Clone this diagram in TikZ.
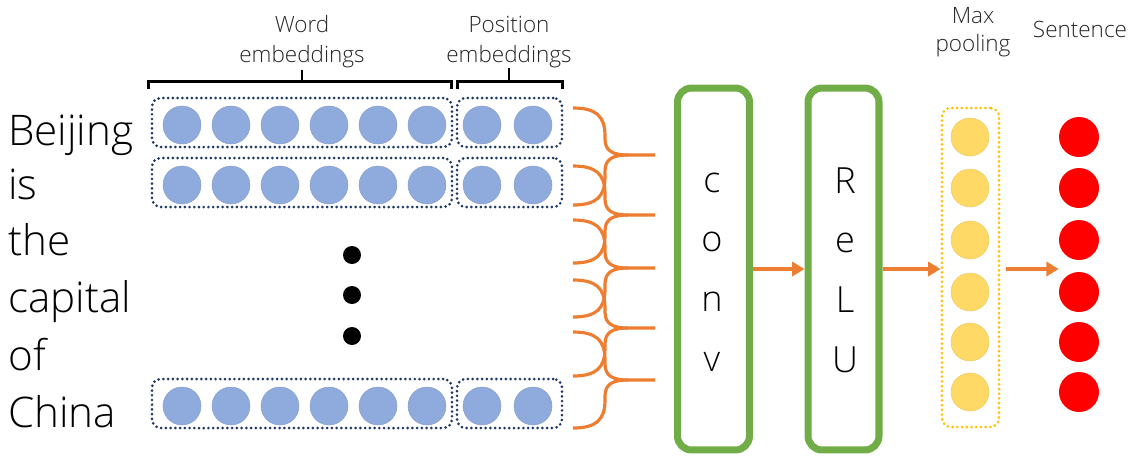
\documentclass[tikz,border=0pt]{standalone}
\usepackage{fontspec}
\IfFontExistsTF{Open Sans Light}{\setmainfont{Open Sans Light}}{\setmainfont{Open Sans}}
\usetikzlibrary{arrows.meta,fit,calc}
\definecolor{embblue}{HTML}{8FAADC}
\definecolor{dotblue}{HTML}{203864}
\definecolor{convgreen}{HTML}{70AD47}
\definecolor{flow}{HTML}{ED7D31}
\definecolor{poolfill}{HTML}{FFD966}
\definecolor{pooldot}{HTML}{FFC000}
\definecolor{outred}{HTML}{FF0000}
\begin{document}
\begin{tikzpicture}[x=0.02cm,y=-0.02cm,
  emb/.style={circle,fill=embblue,draw=embblue!80!gray,line width=0.3pt,minimum size=0.76cm,inner sep=0pt},
  pooled/.style={circle,fill=poolfill,draw=poolfill!85!gray,line width=0.3pt,minimum size=0.76cm,inner sep=0pt},
  sent/.style={circle,fill=outred,minimum size=0.8cm,inner sep=0pt},
  vdot/.style={circle,fill=black,minimum size=0.36cm,inner sep=0pt},
  dotbox/.style={draw=dotblue,line width=1.7pt,dash pattern=on 0pt off 2.7pt,line cap=round,rounded corners=5pt,inner sep=0pt},
  poolbox/.style={draw=pooldot,line width=1.7pt,dash pattern=on 0pt off 2.7pt,line cap=round,rounded corners=5pt,inner sep=0pt},
  layer/.style={draw=convgreen,line width=4pt,rounded corners=8pt,minimum width=1.44cm,minimum height=7.24cm,inner sep=0pt},
  layerchar/.style={anchor=base,font=\fontsize{20.5}{24}\selectfont,inner sep=0pt},
  word/.style={anchor=base west,font=\fontsize{24}{29}\selectfont,inner sep=0pt},
  caption/.style={anchor=base,font=\fontsize{12.8}{15}\selectfont,text=black!85,inner sep=0pt},
  bracket/.style={draw=black,line width=1.3pt},
  window/.style={draw=flow,line width=1.8pt},
  flowarrow/.style={draw=flow,line width=1.8pt,-{Triangle[length=7pt,width=8pt]}}]
\useasboundingbox (0,0) rectangle (1133,458);

% input words
\node[word] (w1) at (8,145) {Beijing};
\node[word] (w2) at (8,199) {is};
\node[word] (w3) at (8,255) {the};
\node[word] (w4) at (8,312) {capital};
\node[word] (w5) at (8,370) {of};
\node[word] (w6) at (8,427) {China};

% embedding rows: six word dimensions and two position dimensions
\foreach \r/\y in {1/125,2/185,3/406}{
  \foreach \i in {1,...,6}{
    \node[emb] (e\r-\i) at ({182+49*(\i-1)},\y) {};
  }
  \node[emb] (e\r-7) at (482,\y) {};
  \node[emb] (e\r-8) at (533,\y) {};
  \node[dotbox,fit={(152,\y-27) (452,\y+22)}] (wb\r) {};
  \node[dotbox,fit={(457,\y-27) (562,\y+22)}] (pb\r) {};
}

% ellipsis between the rows
\node[vdot] (d1) at (352,255) {};
\node[vdot] (d2) at (352,295) {};
\node[vdot] (d3) at (352,336) {};

% brackets and captions above the first row
\draw[bracket] ($(wb1.north west)+(-2,-8)$) -- ++(0,-7) -| ($(wb1.north east)+(-2,-8)$);
\draw[bracket] (302,83) -- (302,70);
\draw[bracket] ($(pb1.north west)+(2,-8)$) -- ++(0,-7) -| ($(pb1.north east)+(-1,-8)$);
\draw[bracket] (509,83) -- (509,68);
\node[caption] (lw1) at (302,32) {Word};
\node[caption] (lw2) at (302,62) {embeddings};
\node[caption] (lp1) at (509,32) {Position};
\node[caption] (lp2) at (509,62) {embeddings};

% convolution windows feeding the conv layer
\foreach \k/\t/\m/\b in {1/108/155/205,2/166/215/263,3/220/268/317,4/280/328/376,5/332/380/428}{
  \coordinate (win\k-top) at (573,\t);
  \coordinate (win\k-bot) at (573,\b);
  \coordinate (win\k-out) at (655,\m);
  \draw[window] (win\k-top) .. controls (596,\t) and (605,\t+8) .. (605,\t+28)
     -- (605,\m-16) .. controls (605,\m-4) and (613,\m) .. (628,\m) -- (win\k-out);
  \draw[window] (win\k-bot) .. controls (596,\b) and (605,\b-8) .. (605,\b-28)
     -- (605,\m+16) .. controls (605,\m+4) and (613,\m) .. (628,\m);
}

% conv and ReLU layers
\node[layer] (conv) at (713.5,269) {};
\node[layer,minimum width=1.42cm] (relu) at (843.5,269) {};
\foreach \c/\y [count=\n] in {c/192,o/251,n/311,v/371}
  \node[layerchar] (conv\n) at (712,\y) {\c};
\foreach \c/\y [count=\n] in {R/193,e/252,L/312,U/372}
  \node[layerchar] (relu\n) at (845,\y) {\c};

% max pooling column
\foreach \y [count=\n] in {137,188,240,292,342,392}{
  \node[pooled] (p\n) at (970,\y) {};
  \node[sent] (s\n) at (1079,\y) {};
}
\node[poolbox,fit={(942,108) (999,427)}] (pool) {};
\node[caption] (lm1) at (973,23) {Max};
\node[caption] (lm2) at (973,51) {pooling};
\node[caption] (ls) at (1080,37) {Sentence};

% forward arrows
\draw[flowarrow] (conv.east |- 0,269) -- (relu.west |- 0,269);
\draw[flowarrow] (relu.east |- 0,269) -- (pool.west |- 0,269);
\draw[flowarrow] ($(pool.east |- 0,269)+(5,0)$) -- (s4.west |- 0,269);
\end{tikzpicture}
\end{document}
